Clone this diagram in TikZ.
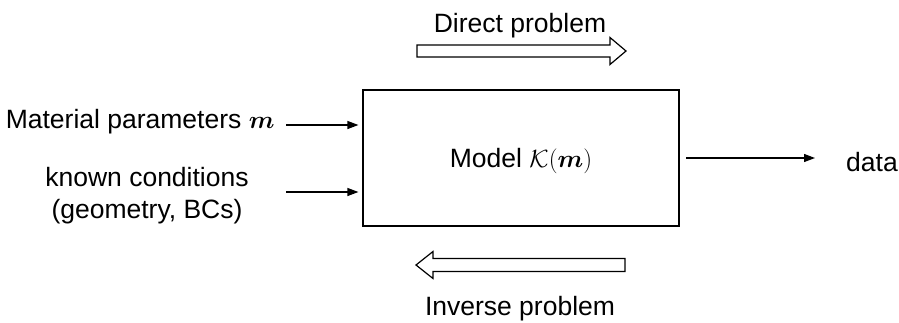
\documentclass[tikz,border=0pt]{standalone}
\usepackage{fontspec}
\setmainfont{Liberation Sans}
\usepackage{bm}
\usetikzlibrary{arrows.meta}

\begin{document}
\begin{tikzpicture}[x=1pt,y=-1pt,
    every node/.style={font=\fontsize{26.5}{32}\selectfont},
    box/.style={draw,line width=1.2pt,minimum width=316pt,minimum height=136pt,inner sep=0pt},
    feed/.style={line width=1.2pt,-{Triangle[length=11pt,width=8pt]}},
    hollow/.style={draw,line width=1.2pt,fill=white,line join=miter}]
  \useasboundingbox (0,0) rectangle (899,322);
  % model block
  \node[box,text depth=0pt] (model) at (521,158) {Model $\mathcal{K}(\bm{m})$};
  % inputs and output
  \node[anchor=base east] (param) at (278,128) {Material parameters $\bm{m}$};
  \node[align=center] (known) at (147,196) {known conditions\\(geometry, BCs)};
  \node[anchor=base] (data) at (872,171) {data};
  \coordinate (in1) at (286,125);
  \coordinate (in2) at (286,192);
  \coordinate (out1) at (686,158);
  \coordinate (out2) at (815,158);
  \draw[feed,shorten >=4pt] (in1) -- (in1 -| model.west);
  \draw[feed,shorten >=4pt] (in2) -- (in2 -| model.west);
  \draw[feed] (out1) -- (out2);
  % direct / inverse problem
  \node[anchor=base] (direct) at (520,32) {Direct problem};
  \node[anchor=base] (inverse) at (520,315) {Inverse problem};
  \draw[hollow] (417,45) -- (610,45) -- (610,37.5) -- (626,51)
    -- (610,64.5) -- (610,57) -- (417,57) -- cycle;
  \draw[hollow] (625,258.5) -- (433,258.5) -- (433,251.5) -- (416,265)
    -- (433,278.5) -- (433,271.5) -- (625,271.5) -- cycle;
\end{tikzpicture}
\end{document}
